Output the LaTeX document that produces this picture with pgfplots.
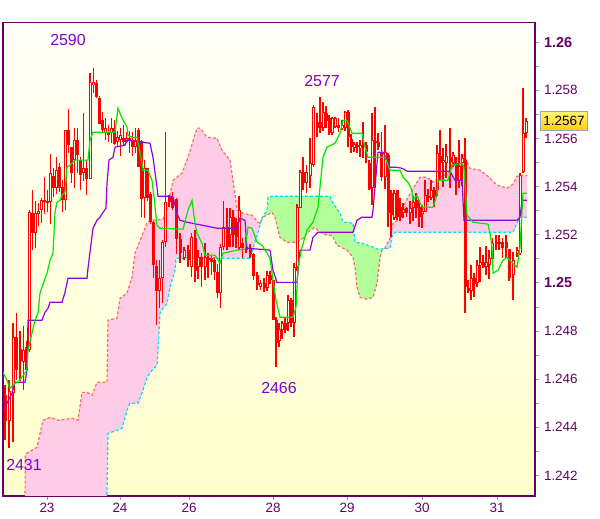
\documentclass[border=0pt]{standalone}
\usepackage{fontspec}
\setmainfont{Liberation Sans}
\usepackage{pgfplots}
\usepackage{pgfplotstable}
\pgfplotsset{compat=1.18}
\usepgfplotslibrary{fillbetween}

\definecolor{axispurple}{RGB}{102,0,102}
\definecolor{annopurple}{RGB}{130,0,210}
\definecolor{tickgray}{RGB}{140,150,165}
\definecolor{bgtop}{RGB}{255,255,248}
\definecolor{bgbot}{RGB}{255,255,205}
\definecolor{cloudpink}{RGB}{255,204,232}
\definecolor{cloudgreen}{RGB}{178,255,153}
\definecolor{spansalmon}{RGB}{255,105,105}
\definecolor{spancyan}{RGB}{0,220,255}
\definecolor{tenkangreen}{RGB}{0,230,0}
\definecolor{kijunpurple}{RGB}{150,0,220}
\definecolor{candlered}{RGB}{255,0,0}
\definecolor{hollowfill}{RGB}{255,255,232}
\definecolor{boxtop}{RGB}{255,245,120}
\definecolor{boxbot}{RGB}{255,205,0}
\definecolor{boxborder}{RGB}{150,165,185}

% hourly candles, x = bar position along the time axis
\pgfplotstableread{
x o h l c
5 1.24533 1.24574 1.24346 1.24429
9 1.24429 1.24595 1.24313 1.24554
13 1.24541 1.24832 1.24338 1.24774
16.5 1.24774 1.24874 1.24595 1.24637
20 1.24728 1.24803 1.24595 1.24678
23.5 1.24670 1.24820 1.24554 1.24720
26.5 1.24732 1.24761 1.24628 1.24637
29.5 1.24720 1.25302 1.24712 1.25293
32.5 1.25293 1.25385 1.25136 1.25210
35.5 1.25210 1.25343 1.25148 1.25293
38.5 1.25289 1.25331 1.25239 1.25302
41.5 1.25302 1.25352 1.25248 1.25343
44.5 1.25343 1.25439 1.25289 1.25335
47.5 1.25343 1.25385 1.25293 1.25331
50.5 1.25335 1.25539 1.25248 1.25456
53.5 1.25447 1.25480 1.25356 1.25397
56.5 1.25393 1.25522 1.25372 1.25468
59.5 1.25480 1.25497 1.25377 1.25393
62.5 1.25397 1.25426 1.25293 1.25343
65.5 1.25343 1.25634 1.25302 1.25634
68.5 1.25634 1.25726 1.25543 1.25572
71.5 1.25564 1.25564 1.25414 1.25456
74.5 1.25510 1.25643 1.25397 1.25593
77.5 1.25593 1.25643 1.25456 1.25530
80.5 1.25510 1.25522 1.25385 1.25447
83.5 1.25456 1.25709 1.25426 1.25480
86.5 1.25480 1.25510 1.25364 1.25435
90 1.25435 1.25871 1.25435 1.25834
93.5 1.25821 1.25892 1.25788 1.25834
96.5 1.25830 1.25842 1.25767 1.25771
99.5 1.25771 1.25780 1.25663 1.25663
102.5 1.25676 1.25709 1.25626 1.25634
105.5 1.25626 1.25684 1.25593 1.25643
108.5 1.25626 1.25655 1.25584 1.25613
111.5 1.25622 1.25684 1.25580 1.25643
114.5 1.25643 1.25676 1.25572 1.25580
117.5 1.25584 1.25634 1.25564 1.25605
120.5 1.25593 1.25647 1.25530 1.25613
123.5 1.25601 1.25655 1.25572 1.25584
126.5 1.25584 1.25626 1.25580 1.25601
129.5 1.25605 1.25634 1.25543 1.25593
132.5 1.25593 1.25626 1.25530 1.25564
135.5 1.25564 1.25643 1.25539 1.25593
138.5 1.25634 1.25643 1.25480 1.25480
141.5 1.25593 1.25593 1.25273 1.25352
144.5 1.25352 1.25510 1.25273 1.25480
147.5 1.25480 1.25480 1.25343 1.25352
150.5 1.25372 1.25377 1.25248 1.25252
153.5 1.25252 1.25260 1.25023 1.25073
156.5 1.25073 1.25094 1.24824 1.24969
159.5 1.24969 1.25094 1.24894 1.25023
162.5 1.25023 1.25177 1.24915 1.25169
165.5 1.25169 1.25626 1.25148 1.25335
169 1.25356 1.25364 1.25314 1.25335
172.5 1.25356 1.25377 1.25302 1.25314
176.5 1.25352 1.25356 1.25123 1.25185
180 1.25185 1.25206 1.25081 1.25123
184 1.25106 1.25148 1.25094 1.25136
188 1.25136 1.25156 1.25065 1.25094
191.5 1.25065 1.25206 1.25023 1.25189
195 1.25189 1.25219 1.25002 1.25052
198 1.25065 1.25136 1.25019 1.25106
201.5 1.25106 1.25123 1.24982 1.25065
205 1.25065 1.25165 1.25011 1.25106
208 1.25106 1.25123 1.25023 1.25094
211.5 1.25106 1.25115 1.25032 1.25086
214.5 1.25094 1.25106 1.25011 1.25044
217.5 1.25044 1.25081 1.24940 1.24957
220.5 1.24957 1.25165 1.24899 1.25148
223.5 1.25148 1.25343 1.25136 1.25231
227 1.25231 1.25310 1.25136 1.25148
230 1.25198 1.25314 1.25148 1.25273
233 1.25273 1.25302 1.25148 1.25198
236 1.25252 1.25273 1.25148 1.25189
239 1.25144 1.25364 1.25136 1.25302
242.5 1.25165 1.25189 1.25106 1.25144
246 1.25148 1.25189 1.25123 1.25136
250 1.25148 1.25165 1.25106 1.25123
253.5 1.25123 1.25123 1.25011 1.25032
257 1.25032 1.25044 1.24969 1.24990
260.5 1.24982 1.25011 1.24969 1.24998
264 1.24998 1.25023 1.24961 1.24978
267 1.24978 1.25052 1.24969 1.25032
270 1.25032 1.25052 1.24998 1.25011
273 1.25011 1.25011 1.24845 1.24845
276 1.24845 1.24857 1.24649 1.24749
279 1.24761 1.24832 1.24732 1.24811
282 1.24803 1.24845 1.24770 1.24832
285 1.24832 1.24857 1.24791 1.24803
288 1.24832 1.24949 1.24803 1.24928
291 1.24928 1.24936 1.24815 1.24832
294 1.24832 1.25081 1.24774 1.25065
297 1.25065 1.25331 1.25052 1.25314
300 1.25314 1.25468 1.25310 1.25460
303 1.25460 1.25522 1.25385 1.25418
306.5 1.25418 1.25489 1.25372 1.25460
310 1.25447 1.25605 1.25397 1.25497
313.5 1.25489 1.25738 1.25480 1.25730
317 1.25668 1.25705 1.25605 1.25643
320 1.25668 1.25771 1.25622 1.25647
323 1.25643 1.25751 1.25634 1.25709
326 1.25709 1.25738 1.25647 1.25676
329 1.25684 1.25697 1.25613 1.25622
332 1.25622 1.25688 1.25613 1.25684
335 1.25647 1.25688 1.25643 1.25684
338.5 1.25655 1.25688 1.25626 1.25643
342 1.25643 1.25676 1.25634 1.25655
345 1.25643 1.25717 1.25634 1.25709
348 1.25709 1.25717 1.25564 1.25605
351 1.25601 1.25622 1.25543 1.25564
354 1.25564 1.25584 1.25543 1.25580
357 1.25572 1.25584 1.25539 1.25564
360 1.25559 1.25593 1.25522 1.25572
363 1.25572 1.25668 1.25518 1.25564
366 1.25572 1.25584 1.25497 1.25543
369 1.25501 1.25510 1.25385 1.25393
372 1.25397 1.25705 1.25323 1.25593
375 1.25593 1.25730 1.25393 1.25584
378 1.25584 1.25622 1.25551 1.25564
381.5 1.25543 1.25626 1.25426 1.25439
385 1.25439 1.25655 1.25393 1.25543
388 1.25530 1.25539 1.25231 1.25289
391 1.25372 1.25385 1.25189 1.25281
394 1.25269 1.25385 1.25260 1.25372
397 1.25385 1.25385 1.25260 1.25273
400 1.25314 1.25352 1.25260 1.25273
403 1.25293 1.25331 1.25269 1.25310
406.5 1.25314 1.25314 1.25273 1.25293
410 1.25293 1.25343 1.25248 1.25314
413 1.25310 1.25364 1.25260 1.25335
416 1.25343 1.25372 1.25269 1.25310
419 1.25314 1.25343 1.25231 1.25273
422 1.25289 1.25323 1.25231 1.25302
425 1.25293 1.25426 1.25293 1.25364
428 1.25364 1.25393 1.25335 1.25352
431 1.25352 1.25426 1.25343 1.25385
434 1.25385 1.25397 1.25314 1.25356
437 1.25385 1.25572 1.25364 1.25539
440 1.25530 1.25634 1.25426 1.25501
443 1.25501 1.25559 1.25397 1.25510
446 1.25501 1.25580 1.25439 1.25530
450 1.25522 1.25643 1.25397 1.25501
453 1.25497 1.25543 1.25480 1.25530
456 1.25497 1.25522 1.25364 1.25426
459 1.25426 1.25593 1.25397 1.25489
462 1.25497 1.25539 1.25406 1.25518
465 1.25510 1.25601 1.24874 1.24982
468 1.24982 1.25011 1.24957 1.24969
471 1.24969 1.25073 1.24928 1.25023
474 1.25023 1.25040 1.24940 1.24998
477 1.24998 1.25094 1.24982 1.25073
480 1.25073 1.25148 1.25002 1.25086
483 1.25086 1.25115 1.25061 1.25065
486 1.25065 1.25156 1.25032 1.25086
489 1.25073 1.25136 1.25019 1.25102
492.5 1.25102 1.25189 1.25061 1.25169
496 1.25169 1.25198 1.25136 1.25164
499 1.25164 1.25198 1.25136 1.25169
502.5 1.25169 1.25189 1.25106 1.25144
506 1.25169 1.25198 1.25106 1.25144
509 1.25144 1.25144 1.25011 1.25023
513 1.25032 1.25127 1.24928 1.25094
517 1.25123 1.25148 1.25106 1.25136
520 1.25123 1.25456 1.25115 1.25447
523 1.25460 1.25813 1.25456 1.25622
526 1.25622 1.25684 1.25601 1.25672
}\candles

% senkou span A (cyan)
\pgfplotstableread{
x y
25 1.2400
106.5 1.2400
108 1.24375
117 1.24387
122 1.24396
128 1.24483
130 1.24500
138 1.24500
143 1.24554
147 1.24608
152 1.24637
157 1.24658
158 1.24720
160 1.24874
163 1.24894
167 1.24915
170 1.24982
175 1.25052
176 1.25102
250 1.25102
253 1.25144
258 1.25210
262 1.25269
267 1.25302
268 1.25356
273 1.25360
330 1.25360
333 1.25331
340 1.25289
343 1.25252
353 1.25248
355 1.25169
363 1.25164
378 1.25140
390 1.25144
392 1.25194
395 1.25210
513 1.25210
517 1.25248
520 1.25273
527 1.25273
}\spana

% senkou span B (salmon)
\pgfplotstableread{
x y
25 1.2400
25.2 1.24284
27 1.24292
37 1.24317
43 1.24429
50 1.24441
58 1.24429
72 1.24437
78 1.24429
82 1.24545
87 1.24545
92 1.24533
97 1.24587
107 1.24587
108 1.24845
117 1.24853
120 1.24936
127 1.24957
132 1.25023
135 1.25123
147 1.25248
150 1.25260
163 1.25264
168 1.25323
173 1.25426
182 1.25456
188 1.25522
197 1.25643
200 1.25643
207 1.25605
217 1.25601
222 1.25551
230 1.25510
233 1.25426
235 1.25372
237 1.25302
243 1.25289
252 1.25281
258 1.25252
260 1.25248
263 1.25273
272 1.25293
275 1.25273
280 1.25189
287 1.25169
297 1.25169
303 1.25185
310 1.25219
315 1.25231
320 1.25210
327 1.25198
332 1.25198
337 1.25156
347 1.25136
353 1.25106
355 1.25065
357 1.24982
360 1.24940
367 1.24932
373 1.24940
377 1.24998
380 1.25106
382 1.25136
385 1.25144
390 1.25185
393 1.25248
398 1.25260
402 1.25281
405 1.25331
412 1.25385
420 1.25439
427 1.25439
433 1.25418
440 1.25439
450 1.25460
455 1.25501
460 1.25539
465 1.25522
470 1.25476
480 1.25468
488 1.25443
497 1.25406
507 1.25393
513 1.25410
517 1.25443
527 1.25447
}\spanb

% tenkan-sen (green)
\pgfplotstableread{
x y
3 1.24628
7 1.24595
10 1.24562
15 1.24583
18 1.24587
27 1.24637
28 1.24720
35 1.24845
38 1.24874
40 1.24957
42 1.24982
47 1.25040
50 1.25094
53 1.25123
55 1.25293
57 1.25335
60 1.25343
62 1.25364
65 1.25377
67 1.25480
70 1.25489
75 1.25510
88 1.25510
90 1.25593
93 1.25626
115 1.25626
118 1.25726
120 1.25705
123 1.25676
127 1.25647
128 1.25613
132 1.25605
137 1.25605
139 1.25564
142 1.25497
143 1.25468
148 1.25468
152 1.25426
154 1.25356
157 1.25239
160 1.25227
183 1.25223
188 1.25302
192 1.25343
195 1.25248
197 1.25206
202 1.25165
205 1.25115
215 1.25115
220 1.25081
223 1.25123
237 1.25136
245 1.25140
248 1.25231
252 1.25227
257 1.25169
262 1.25156
267 1.25123
270 1.25102
273 1.25011
276 1.24928
280 1.24857
293 1.24857
296 1.24899
298 1.25065
302 1.25148
307 1.25219
313 1.25252
318 1.25314
323 1.25522
327 1.25564
335 1.25580
340 1.25622
343 1.25676
347 1.25676
352 1.25622
362 1.25622
365 1.25564
368 1.25522
385 1.25522
390 1.25468
400 1.25468
403 1.25439
408 1.25418
412 1.25385
413 1.25343
417 1.25364
420 1.25331
423 1.25314
433 1.25314
437 1.25364
438 1.25426
448 1.25426
452 1.25489
462 1.25497
464 1.25480
467 1.25281
473 1.25252
488 1.25244
490 1.25206
492 1.25148
493 1.25040
498 1.25052
503 1.25094
507 1.25106
513 1.25081
517 1.25065
520 1.25148
523 1.25372
527 1.25372
}\tenkan

% kijun-sen (purple)
\pgfplotstableread{
x y
3 1.24471
7 1.24500
12 1.24541
15 1.24587
25 1.24587
27 1.24637
28 1.24845
42 1.24845
45 1.24878
48 1.24894
50 1.24919
62 1.24919
65 1.24961
68 1.25019
87 1.25019
88 1.25061
90 1.25127
93 1.25227
97 1.25260
100 1.25273
103 1.25293
106 1.25310
107 1.25414
109 1.25510
113 1.25522
115 1.25564
125 1.25572
127 1.25593
143 1.25584
150 1.25580
153 1.25522
157 1.25397
158 1.25360
170 1.25360
173 1.25356
177 1.25289
180 1.25260
187 1.25252
203 1.25239
217 1.25227
237 1.25227
240 1.25269
245 1.25260
247 1.25144
270 1.25136
273 1.25052
277 1.25002
297 1.25002
300 1.25136
310 1.25136
313 1.25189
318 1.25210
353 1.25210
357 1.25260
362 1.25273
372 1.25273
373 1.25302
378 1.25543
383 1.25543
387 1.25510
390 1.25480
397 1.25480
402 1.25476
407 1.25464
450 1.25464
455 1.25426
462 1.25426
464 1.25260
517 1.25260
520 1.25273
522 1.25343
527 1.25343
}\kijun

\begin{document}
\begin{tikzpicture}
\begin{axis}[
    at={(3bp,23bp)}, anchor=south west,
    scale only axis,
    width=532bp, height=473.5bp,
    xmin=3, xmax=535,
    ymin=1.241143, ymax=1.260819,
    axis line style={draw=axispurple, line width=1.2bp},
    axis background/.style={top color=bgtop, bottom color=bgbot},
    xtick={47,120,189,273,347,422,497},
    xticklabels={23,24,26,28,29,30,31},
    ytick={1.242,1.244,1.246,1.248,1.25,1.252,1.254,1.256,1.258,1.26},
    yticklabels={1.242,1.244,1.246,1.248,{\fontsize{14.5}{16}\selectfont\bfseries 1.25},1.252,1.254,1.256,1.258,{\fontsize{14.5}{16}\selectfont\bfseries 1.26}},
    minor ytick={1.243,1.245,1.247,1.249,1.251,1.253,1.255,1.257,1.259},
    xtick pos=bottom, ytick pos=right,
    yticklabel pos=right,
    tick align=outside,
    major tick length=4bp, minor tick length=4bp,
    tick style={draw=tickgray, line width=0.8bp},
    ticklabel style={font=\fontsize{13.5}{15}\selectfont, text=axispurple},
    yticklabel style={xshift=1.5bp},
    /pgf/number format/assume math mode=true,
]
\addplot[name path=spanA, draw=none, mark=none, forget plot] table {\spana};
\addplot[name path=spanB, draw=none, mark=none, forget plot] table {\spanb};
\addplot[fill=cloudpink, draw=none] fill between[of=spanA and spanB, soft clip={domain=25:260}];
\addplot[fill=cloudgreen, draw=none] fill between[of=spanA and spanB, soft clip={domain=260:385}];
\addplot[fill=cloudpink, draw=none] fill between[of=spanA and spanB, soft clip={domain=385:527}];
\addplot[spancyan, line width=1.2bp, dash pattern=on 3bp off 2bp, mark=none] table {\spana};
\addplot[spansalmon, line width=1.2bp, dash pattern=on 3bp off 2bp, mark=none] table {\spanb};

% wicks
\addplot[draw=none, mark=none, error bars/.cd, y dir=both, y explicit, error mark=none,
    error bar style={draw=candlered, solid, line width=1.1bp}]
    table[x=x, y expr=(\thisrow{h}+\thisrow{l})/2, y error expr=(\thisrow{h}-\thisrow{l})/2] {\candles};
% bodies
\addplot[draw=none, mark=none, error bars/.cd, y dir=both, y explicit, error mark=none,
    error bar style={draw=candlered, solid, line width=3bp}]
    table[x=x, y expr=(\thisrow{o}+\thisrow{c})/2, y error expr={max(abs(\thisrow{c}-\thisrow{o})/2,0.00002)}] {\candles};
% hollow inside of rising candles
\addplot[draw=none, mark=none, error bars/.cd, y dir=both, y explicit, error mark=none,
    error bar style={draw=hollowfill, solid, line width=0.9bp}]
    table[x=x, y expr=(\thisrow{o}+\thisrow{c})/2, y error expr={max((\thisrow{c}-\thisrow{o})/2-0.00004,0)}] {\candles};

\addplot[kijunpurple, line width=1.2bp, mark=none] table {\kijun};
\addplot[tenkangreen, line width=1.2bp, mark=none] table {\tenkan};

\node[font=\fontsize{16}{18}\selectfont, text=annopurple] at (axis cs:68,1.26008) {2590};
\node[font=\fontsize{16}{18}\selectfont, text=annopurple] at (axis cs:322,1.25838) {2577};
\node[font=\fontsize{16}{18}\selectfont, text=annopurple] at (axis cs:279,1.24562) {2466};
\node[font=\fontsize{16}{18}\selectfont, text=annopurple] at (axis cs:24,1.24242) {2431};
\coordinate (lastprice) at (axis cs:535,1.25672);
\end{axis}
\node[anchor=west, draw=boxborder, line width=1bp, top color=boxtop, bottom color=boxbot,
    minimum width=47bp, minimum height=19bp, inner sep=1bp,
    font=\fontsize{13.5}{15}\selectfont] at ([xshift=5bp]lastprice) {1.2567};
\pgfresetboundingbox
\path[use as bounding box] (0,0) rectangle (600bp,519bp);
\end{tikzpicture}
\end{document}
